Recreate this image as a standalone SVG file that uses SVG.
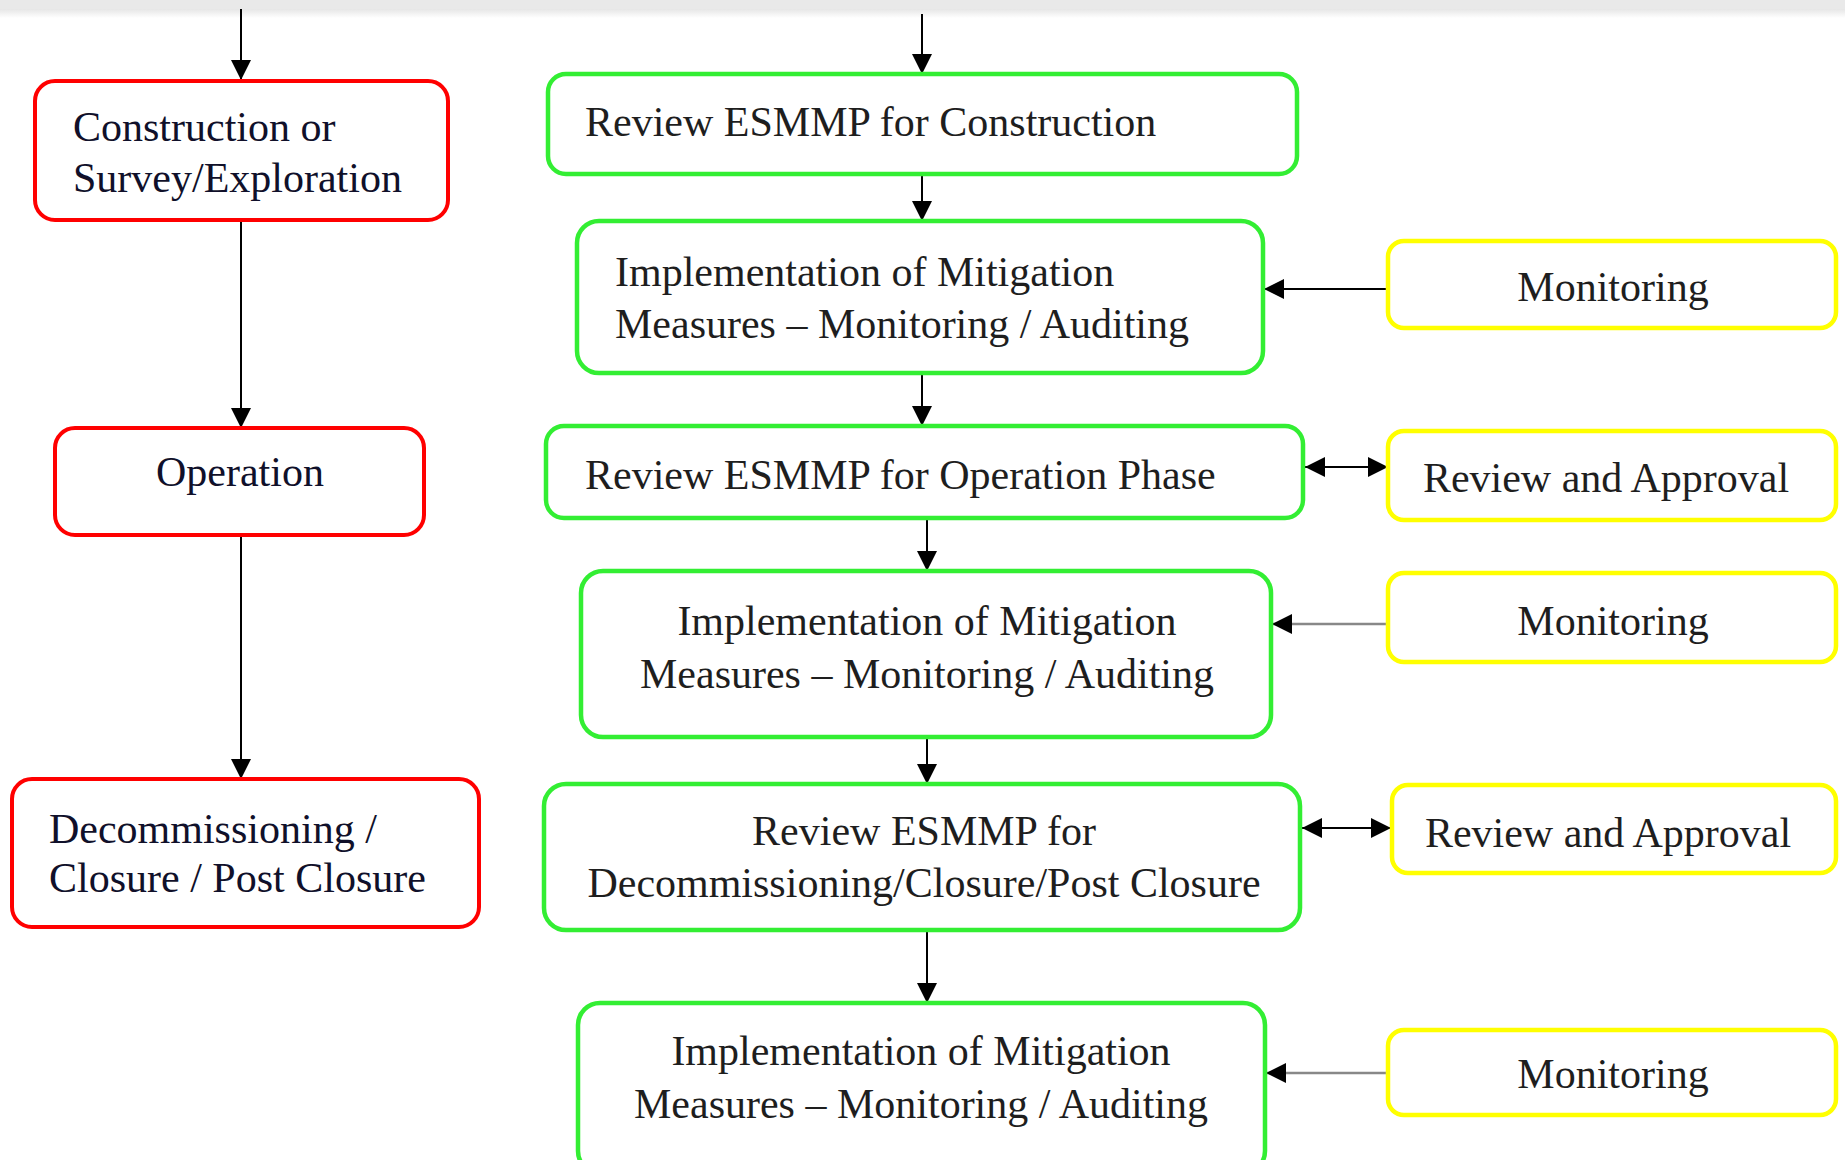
<svg xmlns="http://www.w3.org/2000/svg" width="1845" height="1160" viewBox="0 0 1845 1160">
<defs>
<marker id="ah" viewBox="0 0 20 20" refX="20" refY="10" markerWidth="20" markerHeight="20" markerUnits="userSpaceOnUse" orient="auto-start-reverse">
<path d="M0,0 L20,10 L0,20 z" fill="#000"/>
</marker>
<linearGradient id="topg" x1="0" y1="0" x2="0" y2="1">
<stop offset="0" stop-color="#e6e6e6"/>
<stop offset="1" stop-color="#ffffff"/>
</linearGradient>
<style>
.red{fill:#fff;stroke:#ff0000;stroke-width:4}
.grn{fill:#fff;stroke:#33ee33;stroke-width:4.5}
.yel{fill:#fff;stroke:#ffff00;stroke-width:4.5}
.t{font-family:"Liberation Serif","Times New Roman",serif;font-size:42px;fill:#1e1e1e}
.tl{font-family:"Liberation Serif","Times New Roman",serif;font-size:42px;fill:#10102a}
.c{stroke:#000;stroke-width:2;fill:none}
.cg{stroke:#888;stroke-width:2.5;fill:none}
</style>
</defs>
<rect x="0" y="0" width="1845" height="1160" fill="#fff"/>
<rect x="0" y="0" width="1845" height="9" fill="#e9e9e9"/>
<rect x="0" y="9" width="1845" height="9" fill="url(#topg)"/>

<g id="connectors">
<line class="c" x1="241" y1="9" x2="241" y2="80" marker-end="url(#ah)"/>
<line class="c" x1="241" y1="220" x2="241" y2="428" marker-end="url(#ah)"/>
<line class="c" x1="241" y1="535" x2="241" y2="779" marker-end="url(#ah)"/>
<line class="c" x1="922" y1="14" x2="922" y2="74" marker-end="url(#ah)"/>
<line class="c" x1="922" y1="174" x2="922" y2="221" marker-end="url(#ah)"/>
<line class="c" x1="922" y1="373" x2="922" y2="426" marker-end="url(#ah)"/>
<line class="c" x1="927" y1="518" x2="927" y2="571" marker-end="url(#ah)"/>
<line class="c" x1="927" y1="737" x2="927" y2="784" marker-end="url(#ah)"/>
<line class="c" x1="927" y1="930" x2="927" y2="1003" marker-end="url(#ah)"/>
<line class="c" x1="1388" y1="289" x2="1264" y2="289" marker-end="url(#ah)"/>
<line class="c" x1="1305" y1="467" x2="1388" y2="467" marker-start="url(#ah)" marker-end="url(#ah)"/>
<line class="cg" x1="1388" y1="624" x2="1272" y2="624" marker-end="url(#ah)"/>
<line class="c" x1="1302" y1="828" x2="1391" y2="828" marker-start="url(#ah)" marker-end="url(#ah)"/>
<line class="cg" x1="1388" y1="1073" x2="1266" y2="1073" marker-end="url(#ah)"/>
</g>

<g id="construction">
<rect class="red" x="35" y="81" width="413" height="139" rx="20"/>
<text class="tl" x="73" y="141">Construction or</text>
<text class="tl" x="73" y="192">Survey/Exploration</text>
</g>
<g id="operation">
<rect class="red" x="55" y="428" width="369" height="107" rx="20"/>
<text class="tl" x="240" y="486" text-anchor="middle">Operation</text>
</g>
<g id="decommissioning">
<rect class="red" x="12" y="779" width="467" height="148" rx="20"/>
<text class="tl" x="49" y="843">Decommissioning /</text>
<text class="tl" x="49" y="892">Closure / Post Closure</text>
</g>

<g id="review-construction">
<rect class="grn" x="548" y="74" width="749" height="100" rx="18"/>
<text class="t" x="585" y="136">Review ESMMP for Construction</text>
</g>
<g id="impl-1">
<rect class="grn" x="577" y="221" width="686" height="152" rx="22"/>
<text class="t" x="615" y="286">Implementation of Mitigation</text>
<text class="t" x="615" y="338">Measures – Monitoring / Auditing</text>
</g>
<g id="review-operation">
<rect class="grn" x="546" y="426" width="757" height="92" rx="18"/>
<text class="t" x="585" y="489">Review ESMMP for Operation Phase</text>
</g>
<g id="impl-2">
<rect class="grn" x="581" y="571" width="690" height="166" rx="22"/>
<text class="t" x="927" y="635" text-anchor="middle">Implementation of Mitigation</text>
<text class="t" x="927" y="688" text-anchor="middle">Measures – Monitoring / Auditing</text>
</g>
<g id="review-decommissioning">
<rect class="grn" x="544" y="784" width="756" height="146" rx="22"/>
<text class="t" x="924" y="845" text-anchor="middle">Review ESMMP for</text>
<text class="t" x="924" y="897" text-anchor="middle">Decommissioning/Closure/Post Closure</text>
</g>
<g id="impl-3">
<rect class="grn" x="578" y="1003" width="687" height="170" rx="22"/>
<text class="t" x="921" y="1065" text-anchor="middle">Implementation of Mitigation</text>
<text class="t" x="921" y="1118" text-anchor="middle">Measures – Monitoring / Auditing</text>
</g>

<g id="monitoring-1">
<rect class="yel" x="1388" y="241" width="448" height="87" rx="16"/>
<text class="t" x="1613" y="301" text-anchor="middle">Monitoring</text>
</g>
<g id="approval-1">
<rect class="yel" x="1388" y="431" width="448" height="89" rx="16"/>
<text class="t" x="1606" y="492" text-anchor="middle">Review and Approval</text>
</g>
<g id="monitoring-2">
<rect class="yel" x="1388" y="573" width="448" height="89" rx="16"/>
<text class="t" x="1613" y="635" text-anchor="middle">Monitoring</text>
</g>
<g id="approval-2">
<rect class="yel" x="1392" y="785" width="444" height="88" rx="16"/>
<text class="t" x="1608" y="847" text-anchor="middle">Review and Approval</text>
</g>
<g id="monitoring-3">
<rect class="yel" x="1388" y="1030" width="448" height="85" rx="16"/>
<text class="t" x="1613" y="1088" text-anchor="middle">Monitoring</text>
</g>
</svg>
